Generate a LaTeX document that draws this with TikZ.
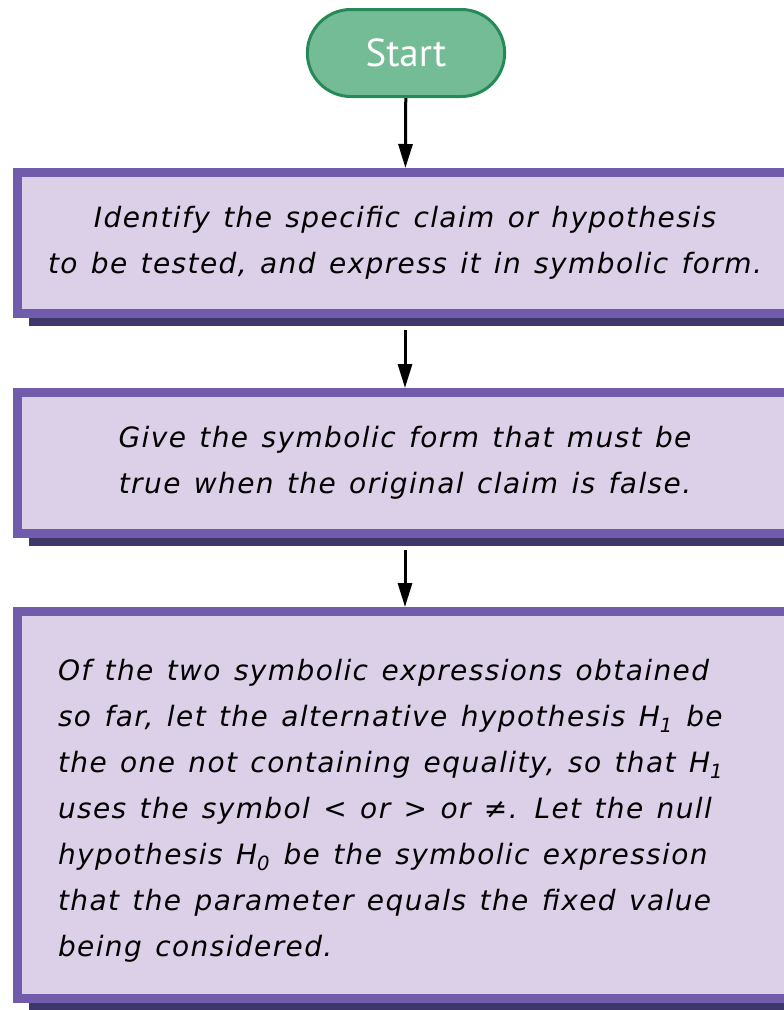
\documentclass[tikz,border=0pt]{standalone}
\usepackage{fontspec}
\setmainfont{DejaVu Sans}[LetterSpace=5,WordSpace=1.3]
\newfontfamily\startfont{PT Sans}
\usetikzlibrary{arrows.meta,positioning,shapes.misc,shadows}
\definecolor{face}{RGB}{220,208,232}
\definecolor{bevel}{RGB}{112,92,170}
\definecolor{shade}{RGB}{62,55,106}
\definecolor{pill}{RGB}{116,188,150}
\definecolor{pillrim}{RGB}{38,138,88}

\begin{document}
\begin{tikzpicture}[x=1pt,y=-1pt,>={Triangle[length=24pt,width=14pt]}]
  \tikzstyle{stepbox}=[draw=bevel,line width=9pt,fill=face,minimum width=775pt,
    drop shadow={shadow xshift=11pt,shadow yshift=-12pt,fill=shade,opacity=1},
    font=\itshape\fontsize{28}{46}\selectfont,align=center,inner sep=0pt]
  \tikzstyle{link}=[->,line width=3pt]
  \useasboundingbox (0,0) rectangle (784,1010);
  \clip (0,0) rectangle (784,1010);
  % start terminal
  \node[rounded rectangle,draw=pillrim,line width=3pt,fill=pill,text=white,
    minimum width=204pt,minimum height=87pt,font=\startfont\fontsize{39}{40}\selectfont]
    (start) at (406,53) {Start};
  % process steps
  \node[stepbox,minimum height=141pt] (claim) at (405,243)
    {Identify the specific claim or hypothesis\\to be tested, and express it in symbolic form.};
  \node[stepbox,minimum height=141pt] (negate) at (405,463)
    {Give the symbolic form that must be\\true when the original claim is false.};
  \node[stepbox,minimum height=387pt,align=left] (choose) at (405,805)
    {\begin{minipage}{694pt}\raggedright\vspace*{12pt}
     Of the two symbolic expressions obtained\\
     so far, let the alternative hypothesis H\textsubscript{1} be\\
     the one not containing equality, so that H\textsubscript{1}\\
     uses the symbol < or > or ≠. Let the null\\
     hypothesis H\textsubscript{0} be the symbolic expression\\
     that the parameter equals the fixed value\\
     being considered.\end{minipage}};
  \draw[link] (start) -- (claim);
  \draw[link] ([yshift=-12pt]claim.south) -- (negate);
  \draw[link] ([yshift=-12pt]negate.south) -- (choose);
\end{tikzpicture}
\end{document}
